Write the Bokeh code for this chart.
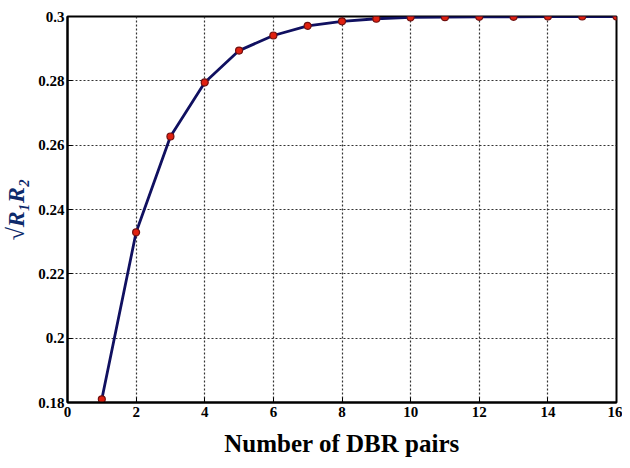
from bokeh.plotting import figure
from bokeh.models import FixedTicker, Range1d
from bokeh.embed import file_html
from bokeh.resources import INLINE

pairs = [1, 2, 3, 4, 5, 6, 7, 8, 9, 10, 11, 12, 13, 14, 15, 16]
reflect = [0.1810, 0.2329, 0.2627, 0.2795, 0.2894, 0.2941, 0.2971, 0.2985,
           0.2993, 0.2997, 0.2998, 0.2999, 0.2999, 0.3000, 0.3000, 0.3000]
x_ticks = [0, 2, 4, 6, 8, 10, 12, 14, 16]
y_ticks = [0.18, 0.2, 0.22, 0.24, 0.26, 0.28, 0.3]
y_tick_labels = ["0.18", "0.2", "0.22", "0.24", "0.26", "0.28", "0.3"]

p = figure(width=622, height=459, output_backend="svg", toolbar_location=None,
           x_range=Range1d(0, 16), y_range=Range1d(0.18, 0.3),
           min_border_left=4, min_border_right=6, min_border_top=16, min_border_bottom=10)

p.outline_line_color = "black"
p.outline_line_width = 2
p.background_fill_color = "white"
p.border_fill_color = "white"

p.axis.axis_line_color = "black"
p.axis.axis_line_width = 2
p.axis.major_tick_in = 5
p.axis.major_tick_out = 0
p.axis.minor_tick_line_color = None
p.axis.major_label_text_font = "Liberation Serif"
p.axis.major_label_text_font_style = "bold"
p.axis.major_label_text_font_size = "15px"
p.axis.major_label_text_color = "black"

p.xaxis.ticker = FixedTicker(ticks=x_ticks)
p.yaxis.ticker = FixedTicker(ticks=y_ticks)
p.yaxis.major_label_overrides = {t: l for t, l in zip(y_ticks, y_tick_labels)}
p.xaxis.major_label_standoff = 4
p.yaxis.major_label_standoff = 3

p.xaxis.axis_label = "Number of DBR pairs"
p.xaxis.axis_label_text_font = "Liberation Serif"
p.xaxis.axis_label_text_font_style = "bold"
p.xaxis.axis_label_text_font_size = "25px"
p.xaxis.axis_label_text_color = "black"
p.xaxis.axis_label_standoff = 10

p.yaxis.axis_label = "√R₁R₂"
p.yaxis.axis_label_text_font = "Liberation Serif"
p.yaxis.axis_label_text_font_style = "bold italic"
p.yaxis.axis_label_text_font_size = "24px"
p.yaxis.axis_label_text_color = "#0d2a6b"
p.yaxis.axis_label_standoff = 6

p.xgrid.ticker = FixedTicker(ticks=x_ticks)
p.ygrid.ticker = FixedTicker(ticks=y_ticks)
p.grid.grid_line_color = "#333333"
p.grid.grid_line_dash = "2 2"
p.grid.grid_line_width = 1.2

p.line(pairs, reflect, line_color="#101060", line_width=2.8)
p.scatter(pairs, reflect, size=7, fill_color="#e02010", line_color="#701010", line_width=1.2)

open("out.html", "w").write(file_html(p, INLINE))
